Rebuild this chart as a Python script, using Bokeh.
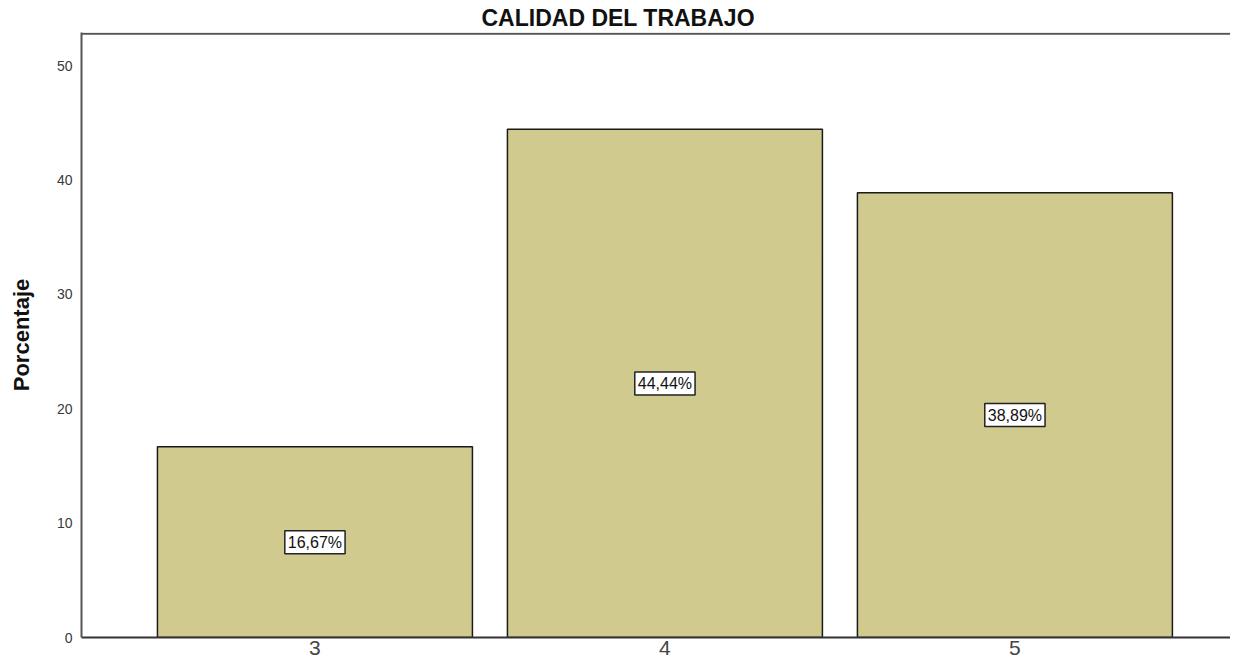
from bokeh.plotting import figure
from bokeh.models import ColumnDataSource, FixedTicker, Span, Range1d
from bokeh.core.properties import value
from bokeh.embed import file_html
from bokeh.resources import INLINE

categories = [3, 4, 5]
percentages = [16.67, 44.44, 38.89]
label_texts = ["16,67%", "44,44%", "38,89%"]
y_ticks = [0, 10, 20, 30, 40, 50]

source = ColumnDataSource(data=dict(
    x=categories,
    top=percentages,
    mid=[v / 2 for v in percentages],
    txt=label_texts,
))

p = figure(width=1230, height=660, output_backend="svg", toolbar_location=None,
           x_range=Range1d(2.333, 5.616), y_range=Range1d(0, 52.9),
           min_border_left=81, min_border_right=0, min_border_top=0, min_border_bottom=23)

p.title.text = "CALIDAD DEL TRABAJO"
p.title.text_font = "Liberation Sans"
p.title.text_font_size = "23px"
p.title.text_font_style = "bold"
p.title.align = "left"
p.title.offset = 400
p.title.text_color = "#111111"
p.title.standoff = 4

p.outline_line_color = None
p.grid.visible = False
p.background_fill_color = "white"
p.border_fill_color = "white"

p.vbar(x="x", top="top", width=0.9, source=source,
       fill_color="#D0CA8E", line_color="#1a1a1a", line_width=1.5)

p.text(x="x", y="mid", text="txt", source=source,
       text_align="center", text_baseline="middle",
       text_font=value("Liberation Sans"), text_font_size="16px",
       text_color="#111111",
       background_fill_color="white", border_line_color="#222222",
       border_line_width=1.5, padding=3)

top_line = Span(location=52.8, dimension="width", line_color="#555555", line_width=2)
p.add_layout(top_line)

p.yaxis.ticker = FixedTicker(ticks=y_ticks)
p.yaxis.minor_tick_line_color = None
p.yaxis.major_tick_line_color = None
p.yaxis.major_tick_out = 0
p.yaxis.major_tick_in = 0
p.yaxis.major_label_standoff = 9
p.yaxis.major_label_text_font = "Liberation Sans"
p.yaxis.major_label_text_font_size = "14px"
p.yaxis.major_label_text_color = "#3a3a3a"
p.yaxis.axis_line_color = "#555555"
p.yaxis.axis_line_width = 2
p.yaxis.axis_label = "Porcentaje"
p.yaxis.axis_label_text_font = "Liberation Sans"
p.yaxis.axis_label_text_font_size = "22px"
p.yaxis.axis_label_text_font_style = "bold"
p.yaxis.axis_label_text_color = "#111111"
p.yaxis.axis_label_standoff = 20

p.xaxis.ticker = FixedTicker(ticks=categories)
p.xaxis.minor_tick_line_color = None
p.xaxis.major_tick_line_color = None
p.xaxis.major_tick_out = 0
p.xaxis.major_tick_in = 0
p.xaxis.major_label_standoff = 3
p.xaxis.major_label_text_font = "Liberation Sans"
p.xaxis.major_label_text_font_size = "21px"
p.xaxis.major_label_text_color = "#444444"
p.xaxis.axis_line_color = "#333333"
p.xaxis.axis_line_width = 2

open("out.html", "w").write(file_html(p, INLINE))
